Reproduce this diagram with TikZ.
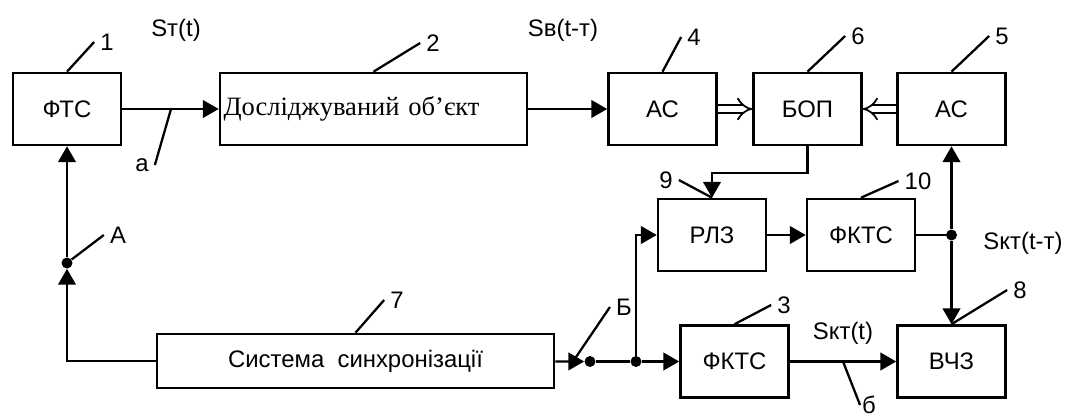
\documentclass[tikz,border=0pt]{standalone}
\usepackage{fontspec}
\setmainfont{Liberation Sans}
\newfontfamily\objfont{Liberation Serif}
\usetikzlibrary{arrows.meta}

\begin{document}
\begin{tikzpicture}[x=0.02cm, y=-0.02cm,
    blk/.style={draw, line width=1.5pt, minimum width=2.16cm, minimum height=1.44cm, font=\fontsize{13.6}{16}\selectfont},
    lbl/.style={font=\fontsize{13.6}{16}\selectfont},
    dot/.style={circle, fill, inner sep=0pt, minimum size=0.22cm},
    conn/.style={line width=1.3pt},
    arr/.style={conn, -{Triangle[length=9pt, width=10pt]}},
    dbl/.style={line width=1pt, double, double distance=3.5pt, -Implies}]
    \useasboundingbox (0,0) rectangle (1072,419);

    % Blocks
    \node[blk] (fts) at (67,109) {ФТС};
    \node[blk, minimum width=6.14cm, text width=6.0cm, align=left, inner xsep=0.07cm,
          font=\objfont\fontsize{15.1}{18}\selectfont] (obj) at (373.5,109) {Досліджуваний об’єкт};
    \node[blk] (ac4) at (662.5,109) {АС};
    \node[blk] (bop) at (807.5,109) {БОП};
    \node[blk] (ac5) at (951.5,109) {АС};
    \node[blk] (rlz) at (712,235) {РЛЗ};
    \node[blk] (fkts10) at (861,235) {ФКТС};
    \node[blk, minimum width=7.94cm, minimum height=1.08cm] (sync) at (355.5,361) {Система\ \ синхронізації};
    \node[blk] (fkts3) at (734.5,361.5) {ФКТС};
    \node[blk] (vchz) at (951.5,361.5) {ВЧЗ};

    % Junction points
    \node[dot] (dA) at (67,263) {};
    \node[dot] (dB) at (590,361.5) {};
    \node[dot] (j2) at (636,361.5) {};
    \node[dot] (j1) at (951.5,235) {};

    % Signals
    \node[lbl] (st) at (176,30) {Sт(t)};
    \node[lbl] (sv) at (563,30) {Sв(t-т)};
    \node[lbl] (skt1) at (1023,243) {Sкт(t-т)};
    \node[lbl] (skt0) at (843,333) {Sкт(t)};

    % Numbers
    \node[lbl] (n1) at (107,42) {1};
    \node[lbl] (n2) at (433,43) {2};
    \node[lbl] (n4) at (694,37) {4};
    \node[lbl] (n6) at (858,36) {6};
    \node[lbl] (n5) at (1002,36) {5};
    \node[lbl] (n9) at (666,180) {9};
    \node[lbl] (n10) at (918,181) {10};
    \node[lbl] (n3) at (784,305) {3};
    \node[lbl] (n8) at (1020,290) {8};
    \node[lbl] (n7) at (397,300) {7};
    \draw[conn] (fts.north) -- (n1.west);
    \draw[conn] (obj.north) -- (n2.west);
    \draw[conn] (ac4.north) -- (n4.west);
    \draw[conn] (bop.north) -- (n6.west);
    \draw[conn] (ac5.north) -- (n5.west);
    \draw[conn] (n9.east) -- (rlz.north);
    \draw[conn] (fkts10.north) -- (n10.west);
    \draw[conn] (fkts3.north) -- (n3.west);
    \draw[conn] (vchz.north) -- (n8.west);
    \draw[conn] (sync.north) -- (n7.west);

    % Points a, b, A, B
    \coordinate (ta) at (171,109);
    \node[lbl] (la) at (142,165) {а};
    \draw[conn] (ta) -- (la.east);
    \coordinate (tb) at (843,361.5);
    \node[lbl, inner sep=1pt] (lb) at (869,405) {б};
    \draw[conn] (tb) -- (lb.west);
    \node[lbl] (lA) at (118,235) {А};
    \draw[conn] (dA) -- (lA.west);
    \coordinate (tB) at (573,361.5);
    \node[lbl] (lB) at (624,307) {Б};
    \draw[conn] (tB) -- (lB.west);

    % Connections
    \draw[arr] (fts) -- (obj);
    \draw[arr] (obj) -- (ac4);
    \draw[dbl] (ac4) -- (bop);
    \draw[dbl] (ac5) -- (bop);
    \draw[arr] (bop.south) -- ++(0,27) -| (rlz.north);
    \draw[arr] (rlz) -- (fkts10);
    \draw[conn] (fkts10) -- (j1);
    \draw[arr] (j1) -- (ac5);
    \draw[arr] (j1) -- (vchz);
    \draw[arr] (sync) -- (dB);
    \draw[conn] (dB) -- (j2);
    \draw[arr] (j2) -- (fkts3);
    \draw[arr] (j2) |- (rlz);
    \draw[arr] (fkts3) -- (vchz);
    \draw[arr] (sync.west) -| (dA.south);
    \draw[arr] (dA) -- (fts);
\end{tikzpicture}
\end{document}
